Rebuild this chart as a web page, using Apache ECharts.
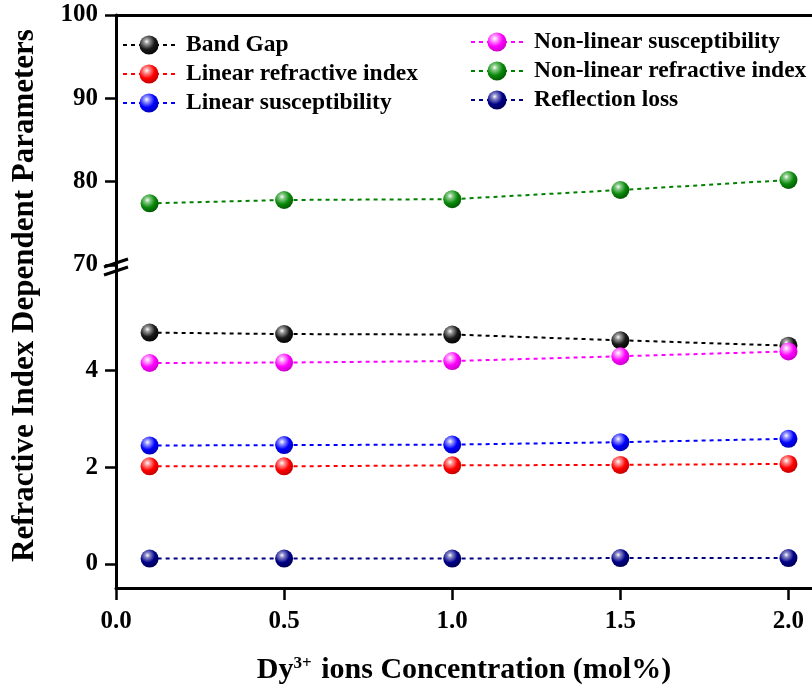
<!DOCTYPE html>
<html>
<head>
<meta charset="utf-8">
<script src="https://cdn.jsdelivr.net/npm/echarts@6/dist/echarts.min.js"></script>
<style>
  html, body { margin: 0; padding: 0; background: #fff; }
  #chart { width: 812px; height: 690px; }
</style>
</head>
<body>
<div id="chart"></div>
<script>
// Dy3+ concentration (mol%)
const concentration = [0.1, 0.5, 1.0, 1.5, 2.0];

// Lower panel series
const bandGap = [4.79, 4.76, 4.75, 4.63, 4.52];
const nonLinearSusceptibility = [4.16, 4.17, 4.20, 4.30, 4.40];
const linearSusceptibility = [2.45, 2.46, 2.47, 2.52, 2.59];
const linearRefractiveIndex = [2.02, 2.02, 2.04, 2.05, 2.07];
const reflectionLoss = [0.11, 0.11, 0.11, 0.12, 0.12];

// Upper panel series
const nonLinearRefractiveIndex = [77.4, 77.8, 77.9, 79.0, 80.2];

// Tick labels
const xTicks = [0, 0.5, 1.0, 1.5, 2.0];
const lowerTicks = [0, 2, 4];
const upperTicks = [70, 80, 90, 100];

const FONT = '"Liberation Serif", "Times New Roman", serif';

function sphere(light, base, dark) {
  return {
    type: 'radial', x: 0.38, y: 0.32, r: 0.75,
    colorStops: [
      { offset: 0, color: '#ffffff' },
      { offset: 0.18, color: light },
      { offset: 0.55, color: base },
      { offset: 1, color: dark }
    ]
  };
}

const pairs = arr => concentration.map((c, i) => [c, arr[i]]);

function makeSeries(name, values, lineColor, fill, panel) {
  return {
    name: name,
    type: 'line',
    xAxisIndex: panel,
    yAxisIndex: panel,
    data: pairs(values),
    symbol: 'circle',
    symbolSize: 18,
    lineStyle: { color: lineColor, width: 2, type: [4, 4] },
    itemStyle: { color: fill, borderWidth: 0 },
    emphasis: { disabled: true },
    z: 3
  };
}

const axisLineStyle = { color: '#000', width: 3 };
const tickStyle = { color: '#000', width: 2.5 };
const labelStyle = { color: '#000', fontFamily: FONT, fontWeight: 'bold', fontSize: 25 };
const legendText = { fontFamily: FONT, fontWeight: 'bold', fontSize: 23.5, color: '#000', padding: [0, 0, 0, 6] };

const chart = echarts.init(document.getElementById('chart'), null, { renderer: 'canvas' });

const option = {
  animation: false,
  backgroundColor: '#fff',
  grid: [
    { left: 116, right: 0, top: 15, height: 250, outerBoundsMode: 'none' },
    { left: 116, right: 0, top: 265, bottom: 102, outerBoundsMode: 'none' }
  ],
  xAxis: [
    {
      gridIndex: 0, type: 'value', position: 'top', min: 0, max: 2.07,
      axisLine: { show: true, onZero: false, lineStyle: axisLineStyle },
      axisTick: { show: false }, axisLabel: { show: false }, splitLine: { show: false }
    },
    {
      gridIndex: 1, type: 'value', position: 'bottom', min: 0, max: 2.07,
      axisLine: { show: true, onZero: false, lineStyle: axisLineStyle },
      axisTick: { show: true, length: 12, lineStyle: tickStyle, customValues: xTicks },
      axisLabel: Object.assign({ margin: 21, customValues: xTicks, formatter: v => v.toFixed(1) }, labelStyle),
      splitLine: { show: false },
      name: '{n|Dy}{s|3+}{n| ions Concentration (mol%)}',
      nameLocation: 'middle',
      nameGap: 67,
      nameTextStyle: {
        rich: {
          n: { fontFamily: FONT, fontWeight: 'bold', fontSize: 30, color: '#000' },
          s: { fontFamily: FONT, fontWeight: 'bold', fontSize: 17, color: '#000', verticalAlign: 'top', padding: [0, 2, 14, 0] }
        }
      }
    }
  ],
  yAxis: [
    {
      gridIndex: 0, type: 'value', min: 70, max: 100, interval: 10,
      axisLine: { show: true, onZero: false, lineStyle: axisLineStyle },
      axisTick: { show: true, length: 11, lineStyle: tickStyle, customValues: upperTicks },
      axisLabel: Object.assign({ margin: 18, customValues: upperTicks }, labelStyle),
      splitLine: { show: false }
    },
    {
      gridIndex: 1, type: 'value', min: -0.5, max: 6.19,
      axisLine: { show: true, onZero: false, lineStyle: axisLineStyle },
      axisTick: { show: true, length: 11, lineStyle: tickStyle, customValues: lowerTicks },
      axisLabel: Object.assign({ margin: 18, customValues: lowerTicks }, labelStyle),
      splitLine: { show: false }
    }
  ],
  legend: [
    {
      orient: 'vertical', left: 117, top: 28, itemWidth: 52, itemHeight: 24, itemGap: 5,
      data: ['Band Gap', 'Linear refractive index', 'Linear susceptibility'],
      textStyle: legendText
    },
    {
      orient: 'vertical', left: 465, top: 25, itemWidth: 52, itemHeight: 24, itemGap: 5,
      data: ['Non-linear susceptibility', 'Non-linear refractive index', 'Reflection loss'],
      textStyle: legendText
    }
  ],
  series: [
    makeSeries('Band Gap', bandGap, '#000000', sphere('#9a9a9a', '#1a1a1a', '#000000'), 1),
    makeSeries('Linear refractive index', linearRefractiveIndex, '#ff0000', sphere('#ff9a9a', '#ff0000', '#b80000'), 1),
    makeSeries('Linear susceptibility', linearSusceptibility, '#0000ff', sphere('#9a9aff', '#0000ff', '#0000a8'), 1),
    makeSeries('Non-linear susceptibility', nonLinearSusceptibility, '#ff00ff', sphere('#ffa8ff', '#ff00ff', '#c000c0'), 1),
    makeSeries('Non-linear refractive index', nonLinearRefractiveIndex, '#008000', sphere('#8ccc8c', '#0a8a0a', '#005000'), 0),
    makeSeries('Reflection loss', reflectionLoss, '#000080', sphere('#8a8ac8', '#000088', '#00004a'), 1)
  ]
};

chart.setOption(option);

// Axis-break marks and the rotated y-axis title, placed from the axis scales
const breakY = chart.convertToPixel({ yAxisIndex: 0 }, 70);
const axisX = chart.convertToPixel({ xAxisIndex: 1 }, 0);
const bottomY = chart.convertToPixel({ yAxisIndex: 1 }, -0.5);
const topY = chart.convertToPixel({ yAxisIndex: 0 }, 100);
const slash = { stroke: '#000', lineWidth: 3 };
chart.setOption({
  graphic: [
    { type: 'line', z: 10, shape: { x1: axisX - 12, y1: breakY + 2, x2: axisX + 12, y2: breakY - 6 }, style: slash },
    { type: 'line', z: 10, shape: { x1: axisX - 12, y1: breakY + 10, x2: axisX + 12, y2: breakY + 2 }, style: slash },
    {
      type: 'text', z: 10,
      x: 25, y: (topY + bottomY) / 2 - 6, rotation: Math.PI / 2,
      style: {
        text: 'Refractive Index Dependent Parameters',
        font: 'bold 31px ' + FONT, fill: '#000',
        textAlign: 'center', textVerticalAlign: 'middle'
      }
    }
  ]
});
</script>
</body>
</html>
